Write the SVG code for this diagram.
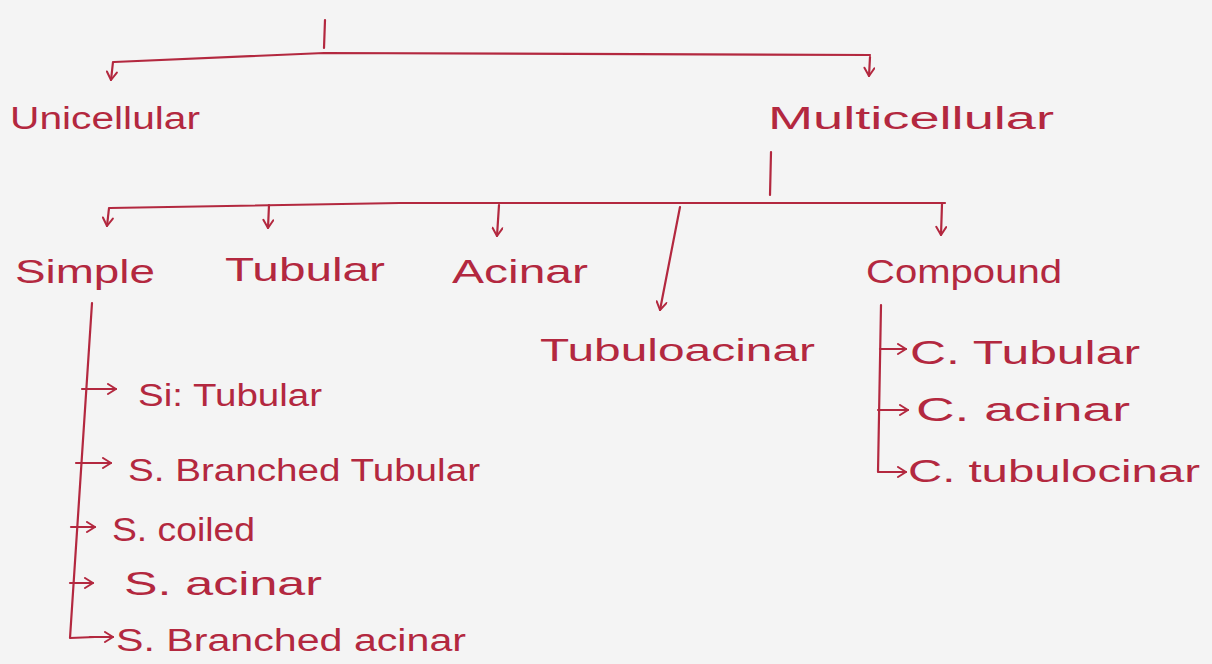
<svg xmlns="http://www.w3.org/2000/svg" width="1212" height="664" viewBox="0 0 1212 664">
<defs>
<marker id="ah" viewBox="0 0 12 12" refX="10" refY="6" markerWidth="12" markerHeight="12" markerUnits="userSpaceOnUse" orient="auto">
<polyline points="2,1 10,6 2,11" fill="none" stroke="#b3283f" stroke-width="2" stroke-linecap="round" stroke-linejoin="round"/>
</marker>
</defs>
<style>
.ln{fill:none;stroke:#b3283f;stroke-width:2.2;stroke-linecap:round;stroke-linejoin:round}
.ar{marker-end:url(#ah)}
.t{font-family:"Liberation Sans",Arial,sans-serif;font-size:31px;fill:#b3283f}
.b{font-size:34px}
</style>
<rect x="0" y="0" width="1212" height="664" fill="#f4f4f4"/>
<g id="connectors">
<path class="ln" d="M325,20 L324,48"/>
<path class="ln" d="M114,62 L324,53 L870,55"/>
<path class="ln ar" d="M113,62 L111,80"/>
<path class="ln ar" d="M870,57 L869,76"/>
<path class="ln" d="M771,152 L770,195"/>
<path class="ln" d="M110,208 L400,203 L945,203"/>
<path class="ln ar" d="M109,208 L107,226"/>
<path class="ln ar" d="M269,205 L268,228"/>
<path class="ln ar" d="M499,205 L497,236"/>
<path class="ln ar" d="M680,207 L660,310"/>
<path class="ln ar" d="M942,204 L941,235"/>
<path class="ln" d="M92,303 L70,638 L95,637"/>
<path class="ln ar" d="M82,389 L116,389"/>
<path class="ln ar" d="M76,463 L111,463"/>
<path class="ln ar" d="M71,527 L95,527"/>
<path class="ln ar" d="M70,583 L93,583"/>
<path class="ln ar" d="M90,637 L113,637"/>
<path class="ln" d="M881,305 L878,472 L893,472"/>
<path class="ln ar" d="M880,349 L906,349"/>
<path class="ln ar" d="M878,410 L908,410"/>
<path class="ln ar" d="M890,472 L906,472"/>
</g>
<g id="unicellular"><text class="t" x="10" y="129" textLength="190" lengthAdjust="spacingAndGlyphs">Unicellular</text></g>
<g id="multicellular"><text class="t" x="768" y="129" textLength="286" lengthAdjust="spacingAndGlyphs">Multicellular</text></g>
<g id="simple"><text class="t b" x="15" y="283" textLength="140" lengthAdjust="spacingAndGlyphs">Simple</text></g>
<g id="tubular"><text class="t b" x="225" y="281" textLength="160" lengthAdjust="spacingAndGlyphs">Tubular</text></g>
<g id="acinar"><text class="t b" x="452" y="283" textLength="136" lengthAdjust="spacingAndGlyphs">Acinar</text></g>
<g id="tubuloacinar"><text class="t" x="540" y="361" textLength="275" lengthAdjust="spacingAndGlyphs">Tubuloacinar</text></g>
<g id="compound"><text class="t b" x="866" y="283" textLength="196" lengthAdjust="spacingAndGlyphs">Compound</text></g>
<g id="s-tubular"><text class="t" x="138" y="406" textLength="184" lengthAdjust="spacingAndGlyphs">Si: Tubular</text></g>
<g id="s-branched-tubular"><text class="t" x="128" y="481" textLength="352" lengthAdjust="spacingAndGlyphs">S. Branched Tubular</text></g>
<g id="s-coiled"><text class="t b" x="112" y="541" textLength="143" lengthAdjust="spacingAndGlyphs">S. coiled</text></g>
<g id="s-acinar"><text class="t b" x="124" y="595" textLength="198" lengthAdjust="spacingAndGlyphs">S. acinar</text></g>
<g id="s-branched-acinar"><text class="t" x="116" y="651" textLength="350" lengthAdjust="spacingAndGlyphs">S. Branched acinar</text></g>
<g id="c-tubular"><text class="t b" x="910" y="364" textLength="230" lengthAdjust="spacingAndGlyphs">C. Tubular</text></g>
<g id="c-acinar"><text class="t b" x="916" y="421" textLength="214" lengthAdjust="spacingAndGlyphs">C. acinar</text></g>
<g id="c-tubuloacinar"><text class="t" x="908" y="482" textLength="292" lengthAdjust="spacingAndGlyphs">C. tubulocinar</text></g>
</svg>
